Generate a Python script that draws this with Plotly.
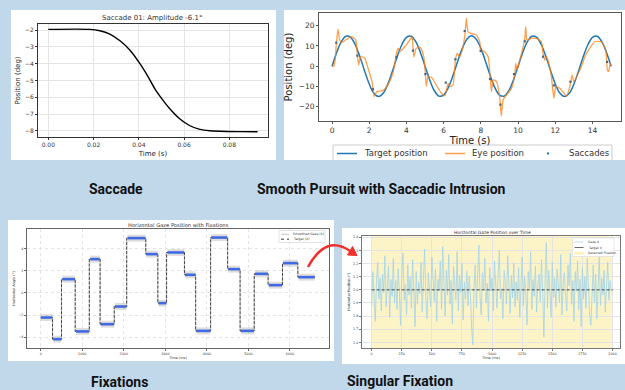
import plotly.graph_objects as go

W, H = 625, 390
def X(px): return px / W
def Y(py): return 1 - py / H

# ---------------- data ----------------
# Panel 1: single saccade
sac_t = [0.0, 0.0184, 0.0228, 0.0272, 0.0317, 0.0361, 0.0405, 0.0442, 0.0471,
         0.0508, 0.0538, 0.0582, 0.0626, 0.067, 0.0714, 0.0788, 0.085, 0.0925]
sac_pos = [-1.96, -1.96, -2.04, -2.24, -2.64, -3.2, -4.0, -4.8, -5.5,
           -6.2, -6.7, -7.3, -7.7, -7.92, -8.0, -8.04, -8.05, -8.06]

# Panel 2: smooth pursuit (target sampled every 0.25 s)
target_t = [i * 0.25 for i in range(61)]
target_pos = [0, 6.81, 12.14, 14.82, 14.27, 10.61, 4.64, -2.35, -8.82, -13.37,
              -15, -13.37, -8.82, -2.35, 4.64, 10.61, 14.27, 14.82, 12.14, 6.81,
              0, -6.81, -12.14, -14.82, -14.27, -10.61, -4.64, 2.35, 8.82, 13.37,
              15, 13.37, 8.82, 2.35, -4.64, -10.61, -14.27, -14.82, -12.14, -6.81,
              0, 6.81, 12.14, 14.82, 14.27, 10.61, 4.64, -2.35, -8.82, -13.37,
              -15, -13.37, -8.82, -2.35, 4.64, 10.61, 14.27, 14.82, 12.14, 6.81, 0]
eye_t = [0, 0.1, 0.18, 0.23, 0.32, 0.41, 0.5, 0.77, 1.06, 1.27, 1.36, 1.43, 1.54,
         1.76, 1.99, 2.15, 2.27, 2.4, 2.74, 3.05, 3.3, 3.46, 3.55, 3.64, 3.91, 4.18,
         4.3, 4.4, 4.52, 4.75, 4.93, 5.02, 5.07, 5.16, 5.34, 5.6, 5.88, 6.06, 6.15,
         6.24, 6.33, 6.5, 6.63, 6.72, 6.86, 7.04, 7.15, 7.22, 7.31, 7.49, 7.76,
         7.94, 7.99, 8.15, 8.39, 8.51, 8.57, 8.66, 8.84, 9.01, 9.1, 9.19, 9.37,
         9.64, 9.82, 9.87, 9.95, 10.09, 10.27, 10.36, 10.41, 10.48, 10.72, 10.98,
         11.25, 11.34, 11.43, 11.52, 11.7, 11.79, 11.92, 12.03, 12.24, 12.6, 12.78,
         12.9, 12.99, 13.32, 13.67, 14.12, 14.48, 14.71, 14.8, 14.86, 14.96, 15.0]
eye_pos = [0, 0, 4, 11, 18.3, 13, 11.6, 13.2, 14.6, 13, 5.5, 0.6, 4.7,
           3.9, -2.7, -7.6, -15, -12.6, -12.1, -8.5, -2.5, 6.3, 8.8, 7.2, 9.6, 12.9,
           14.5, 4.6, 8.8, 9.2, 4.7, -4.4, -10, -5.2, -5.5, -9.3, -13.4, -14.7, -11.8,
           -8.5, -10.1, -9.3, 3, 6.3, 4.7, 9.6, 16.2, 23.6, 17, 16.2, 15.4,
           12.1, 7.2, 7.6, 4.7, -6.8, -12.6, -6.8, -7.6, -15, -24.6, -16.7, -14.2,
           -11, -4.4, 1.4, -1.9, 3, 9.6, 13.7, 19.5, 12.9, 13.7, 13.7,
           12.1, 6.3, 3, 4.7, -0.2, -5.2, -15.9, -10.1, -10.9, -14.7, -10.1,
           -4.4, -7.6, -1.9, 6.3, 12.1, 12.1, 8, -1.9, -2.7, 1.4, 0.5]
sacc_t = [0.23, 1.36, 2.2, 3.46, 4.35, 5.02, 6.11, 6.63, 7.13, 7.99, 8.49, 9.05,
          9.78, 10.36, 11.34, 11.92, 12.81, 14.78]
sacc_pos = [11.6, 5.2, -11.4, 4.4, 7.7, -3.9, -8.1, 3.4, 17.4, 7.5, -6.3, -19,
            -3.9, 12.3, 4.7, -9.5, -7.7, 2.1]

# Panel 3: fixations (ms, degrees)
target_change_ms = [0, 285, 500, 830, 1170, 1430, 1770, 2070, 2530, 2820, 3030,
                    3460, 3730, 4090, 4500, 4800, 5140, 5475, 5820, 6190, 6600]
fix_level = [-2.22, -4.17, 1.23, -3.47, 3.03, -2.82, -1.23, 4.92, 3.48, -0.93,
             3.63, 1.62, -3.42, 4.97, 2.13, -3.42, 1.71, 0.69, 2.67, 1.41]
fix_start_ms = [0, 300, 520, 850, 1190, 1445, 1785, 2090, 2540, 2835, 3050, 3475,
                3745, 4105, 4515, 4815, 5160, 5490, 5835, 6205]
fix_end_ms = [280, 495, 825, 1165, 1425, 1765, 2065, 2525, 2815, 3025, 3455, 3725,
              4085, 4495, 4795, 5135, 5470, 5815, 6185, 6600]

# Panel 4: singular fixation (gaze in hundredths of a degree, 10 ms samples)
gaze_centi = [
    188, 214, 197, 176, 205, 221, 193, 209, 184, 212, 198, 226, 187, 203, 218, 179, 208, 195, 224, 190,
    207, 185, 216, 199, 173, 211, 228, 192, 204, 181, 219, 196, 210, 186, 223, 201, 172, 214, 189, 206,
    197, 221, 183, 209, 231, 194, 178, 213, 200, 187, 225, 205, 191, 216, 176, 208, 199, 222, 185, 233,
    203, 180, 215, 196, 227, 189, 207, 174, 218, 201, 192, 229, 184, 211, 198, 220, 177, 206, 193, 214,
    188, 210, 197, 171, 158, 202, 219, 186, 208, 234, 195, 181, 213, 200, 224, 190, 205, 176, 217, 199,
    209, 184, 222, 196, 186, 212, 230, 193, 201, 178, 215, 204, 189, 226, 198, 182, 211, 194, 220, 187,
    206, 192, 217, 179, 203, 225, 188, 210, 197, 173, 214, 201, 229, 185, 208, 195, 218, 183, 204, 212,
    191, 223, 198, 164, 207, 236, 186, 215, 200, 179, 221, 194, 209, 187, 216, 202, 190, 227, 181, 205,
    213, 196, 184, 219, 203, 228, 189, 207, 176, 214, 199, 222, 185, 208, 172, 217, 193, 210, 186, 224,
    197, 181, 173, 206, 219, 190, 212, 178, 201, 225, 188, 209, 196, 215, 183, 204, 221, 192, 207, 199, 201]
gaze_t_ms = [i * 10 for i in range(len(gaze_centi))]
gaze_x = [v / 100 for v in gaze_centi]
target_x = 2.0
fixation_window_ms = [0, 2000]

# ---------------- figure ----------------
BG = '#c0d8ea'
FONT = 'DejaVu Sans'
fig = go.Figure()

# Panel 1
fig.add_trace(go.Scatter(x=sac_t, y=sac_pos, mode='lines', xaxis='x', yaxis='y',
                         line=dict(color='black', width=1.4, shape='spline', smoothing=0.8),
                         showlegend=False, hoverinfo='skip'))

# Panel 2
fig.add_trace(go.Scatter(x=target_t, y=target_pos, mode='lines', xaxis='x2', yaxis='y2',
                         name='Target position', showlegend=False,
                         line=dict(color='#1f77b4', width=1.5, shape='spline', smoothing=1)))
fig.add_trace(go.Scatter(x=eye_t, y=eye_pos, mode='lines', xaxis='x2', yaxis='y2',
                         name='Eye position', showlegend=False,
                         line=dict(color='rgba(255,127,14,0.75)', width=1.3, shape='spline', smoothing=0.5)))
fig.add_trace(go.Scatter(x=sacc_t, y=sacc_pos, mode='markers', xaxis='x2', yaxis='y2',
                         name='Saccades', showlegend=False,
                         marker=dict(color='#4a6580', size=2.2, symbol='square', line=dict(width=0))))

# Panel 3
seg_x, seg_y = [], []
for s, e, l in zip(fix_start_ms, fix_end_ms, fix_level):
    seg_x += [s, e, None]
    seg_y += [l, l, None]
step_y = fix_level + [fix_level[-1]]
fig.add_trace(go.Scatter(x=seg_x, y=seg_y, mode='lines', xaxis='x3', yaxis='y3',
                         line=dict(color='rgba(160,160,160,0.35)', width=7), showlegend=False))
fig.add_trace(go.Scatter(x=target_change_ms, y=step_y, mode='lines', xaxis='x3', yaxis='y3',
                         name='Smoothed Gaze (X)', showlegend=False,
                         line=dict(color='#c4c4c4', width=1, shape='hv')))
fig.add_trace(go.Scatter(x=target_change_ms, y=step_y, mode='lines', xaxis='x3', yaxis='y3',
                         name='Target (X)', showlegend=False,
                         line=dict(color='#222', width=0.8, dash='3px,1.5px', shape='hv')))
fig.add_trace(go.Scatter(x=seg_x, y=seg_y, mode='lines', xaxis='x3', yaxis='y3',
                         name='Fixations', showlegend=False,
                         line=dict(color='#4169e1', width=2.6)))

# Panel 4
fig.add_trace(go.Scatter(x=gaze_t_ms, y=gaze_x, mode='lines', xaxis='x4', yaxis='y4',
                         name='Gaze X', showlegend=False,
                         line=dict(color='#a9d6e6', width=0.9)))
fig.add_trace(go.Scatter(x=fixation_window_ms, y=[target_x, target_x], mode='lines',
                         xaxis='x4', yaxis='y4', name='Target X', showlegend=False,
                         line=dict(color='#333', width=0.9, dash='3px,2px')))


def axis(domain, rng, size, color='#333', grid=False, gdash='solid', **kw):
    d = dict(domain=domain, range=rng, showline=True, mirror=True, linecolor=color,
             linewidth=1, ticks='outside', ticklen=2, tickcolor=color, tickwidth=0.8,
             tickfont=dict(family=FONT, size=size, color='#333'),
             showgrid=grid, gridcolor='#e4e4e4', griddash=gdash, gridwidth=0.6,
             zeroline=False, separatethousands=False, exponentformat='none')
    d.update(kw)
    return d

fig.update_layout(
    width=W, height=H, margin=dict(l=0, r=0, t=0, b=0),
    paper_bgcolor=BG, plot_bgcolor='white', showlegend=False,
    font=dict(family=FONT),
    xaxis=axis([X(38), X(268)], [-0.00455, 0.0971], 6, grid=True, anchor='y',
               tickvals=[0, 0.02, 0.04, 0.06, 0.08], tickformat='.2f',
               title=dict(text='Time (s)', font=dict(size=7, color='#222'), standoff=3)),
    yaxis=axis([Y(137), Y(24)], [-8.37, -1.64], 6, grid=True, anchor='x',
               tickvals=[-2, -3, -4, -5, -6, -7, -8],
               title=dict(text='Position (deg)', font=dict(size=7, color='#222'), standoff=3)),
    xaxis2=axis([X(319), X(621)], [-0.7, 15.53], 7.5, color='#555', anchor='y2',
                tickvals=[0, 2, 4, 6, 8, 10, 12, 14],
                title=dict(text='Time (s)', font=dict(size=10, color='#222'), standoff=1)),
    yaxis2=axis([Y(121), Y(13)], [-27.1, 26.3], 7.5, color='#555', anchor='x2',
                tickvals=[-20, -10, 0, 10, 20],
                title=dict(text='Position (deg)', font=dict(size=10, color='#222'), standoff=4)),
    xaxis3=axis([X(27), X(329)], [-330, 6940], 3.3, color='#666', grid=True, gdash='dot', anchor='y3',
                tickvals=[0, 1000, 2000, 3000, 4000, 5000, 6000], tickformat='d',
                title=dict(text='Time (ms)', font=dict(size=3.5, color='#333'), standoff=1)),
    yaxis3=axis([Y(348), Y(229)], [-4.96, 5.74], 3.3, color='#666', grid=True, gdash='dot', anchor='x3',
                tickvals=[-4, -2, 0, 2, 4],
                title=dict(text='Horizontal Angle (°)', font=dict(size=3.5, color='#333'), standoff=3)),
    xaxis4=axis([X(362), X(620)], [-80, 2062], 3.3, color='#777', grid=True, anchor='y4',
                tickvals=[0, 250, 500, 750, 1000, 1250, 1500, 1750, 2000], tickformat='d',
                title=dict(text='Time (ms)', font=dict(size=3.5, color='#333'), standoff=1)),
    yaxis4=axis([Y(348), Y(236)], [1.557, 2.41], 3.3, color='#777', grid=True, anchor='x4',
                tickvals=[1.6, 1.7, 1.8, 1.9, 2.0, 2.1, 2.2, 2.3, 2.4], tickformat='.1f',
                title=dict(text='Horizontal Position (°)', font=dict(size=3.5, color='#333'), standoff=2)),
)

shapes = []
def rect(x0, y0, x1, y1, fill='white', line_color=None, lw=0, layer='below'):
    return dict(type='rect', xref='paper', yref='paper', x0=X(x0), x1=X(x1), y0=Y(y1), y1=Y(y0),
                fillcolor=fill, line=dict(color=line_color or fill, width=lw), layer=layer)
def seg(x0, y0, x1, y1, color, width=1, dash='solid', layer='above'):
    return dict(type='line', xref='paper', yref='paper', x0=X(x0), x1=X(x1), y0=Y(y0), y1=Y(y1),
                line=dict(color=color, width=width, dash=dash), layer=layer)

# white panels
shapes += [rect(11, 10, 276, 160), rect(284, 10, 625, 160),
           rect(8, 220, 334, 361), rect(342, 228, 625, 364)]

# detected fixation shading (panel 4)
shapes.append(dict(type='rect', xref='x4', yref='y4 domain', x0=fixation_window_ms[0],
                   x1=fixation_window_ms[1], y0=0, y1=1, fillcolor='#fcf3c6',
                   line=dict(width=0), layer='below'))

ann = []
def txt(x, y, s, size, color='#222', anchor='center', bold=False, family=FONT, angle=0):
    ann.append(dict(xref='paper', yref='paper', x=X(x), y=Y(y), text=f'<b>{s}</b>' if bold else s,
                    showarrow=False, xanchor=anchor, yanchor='middle', textangle=angle,
                    font=dict(family=family, size=size, color=color)))

# panel 2 manual legend
shapes += [seg(333, 145, 612, 145, '#cccccc'), seg(333, 145, 333, 160, '#cccccc'),
           seg(612, 145, 612, 160, '#cccccc')]
shapes += [seg(337, 153.5, 357, 153.5, '#1f77b4', 1.5), seg(445, 153.5, 465, 153.5, 'rgba(255,127,14,0.75)', 1.5)]
shapes.append(rect(547, 152.5, 549, 154.5, fill='#1f77b4', layer='above'))
txt(362, 153.5, 'Target position', 8.5, '#333', 'left')
txt(470, 153.5, 'Eye position', 8.5, '#333', 'left')
txt(567, 153.5, 'Saccades', 8.5, '#333', 'left')

# panel 3 legend
shapes.append(rect(279, 230.5, 325, 242.5, fill='white', line_color='#d0d0d0', lw=0.6, layer='above'))
shapes += [seg(281, 234.3, 289, 234.3, '#b8b8b8', 0.8), seg(281, 239.2, 289, 239.2, '#222', 0.9, 'dot')]
txt(291, 234.3, 'Smoothed Gaze (X)', 3.2, '#333', 'left')
txt(291, 239.2, 'Target (X)', 3.2, '#333', 'left')

# panel 4 legend
shapes.append(rect(572.5, 238, 614, 256.5, fill='white', line_color='#d8d8d8', lw=0.6, layer='above'))
shapes += [seg(574.5, 242, 583.5, 242, '#a9d6e6', 0.8), seg(574.5, 247.5, 583.5, 247.5, '#444', 0.8, 'dash')]
shapes.append(rect(574.5, 251.8, 583.5, 254.6, fill='#fcf0bb', layer='above'))
txt(585.5, 242, 'Gaze X', 3.2, '#333', 'left')
txt(585.5, 247.5, 'Target X', 3.2, '#333', 'left')
txt(585.5, 253.2, 'Detected Fixation', 3.2, '#333', 'left')

# red arrow
path = f'M {X(308)},{Y(267)} Q {X(326)},{Y(234)} {X(350)},{Y(251)}'
shapes.append(dict(type='path', xref='paper', yref='paper', path=path,
                   line=dict(color='#f2302b', width=2.5), layer='above'))
head = f'M {X(357)},{Y(255.5)} L {X(347.5)},{Y(255)} L {X(352.5)},{Y(246.5)} Z'
shapes.append(dict(type='path', xref='paper', yref='paper', path=head,
                   fillcolor='#f2302b', line=dict(color='#f2302b', width=1), layer='above'))

# chart titles
txt(152, 18, 'Saccade 01: Amplitude -6.1°', 7, '#333')
txt(178, 225, 'Horizontal Gaze Position with Fixations', 5.2, '#333')
txt(492, 232.5, 'Horizontal Gaze Position over Time', 4.4, '#333')

# captions
txt(116, 189, 'Saccade', 14, '#111', bold=True, family='Roboto')
txt(381, 189, 'Smooth Pursuit with Saccadic Intrusion', 14, '#111', bold=True, family='Roboto')
txt(119, 382, 'Fixations', 14, '#111', bold=True, family='Roboto')
txt(400, 381, 'Singular Fixation', 14, '#111', bold=True, family='Roboto')

fig.update_layout(shapes=shapes, annotations=ann)
fig.write_html('out.html', config={'displayModeBar': False},
               post_script="document.body.style.margin='0px';document.body.style.overflow='hidden';")
